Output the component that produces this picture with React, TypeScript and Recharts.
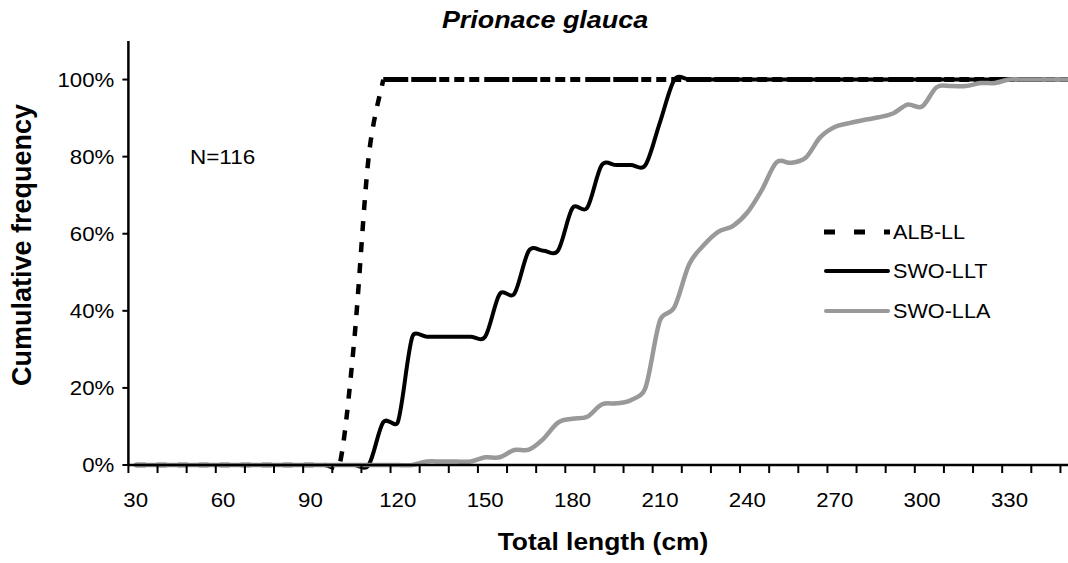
import React from 'react';
import { LineChart, Line, XAxis, YAxis, Legend } from 'recharts';

// ---- data ----
const lengths = [
  30, 35, 40, 45, 50, 55, 60, 65, 70, 75, 80, 85, 90, 95, 100, 105, 110, 115, 120, 125,
  130, 135, 140, 145, 150, 155, 160, 165, 170, 175, 180, 185, 190, 195, 200, 205, 210, 215, 220, 225,
  230, 235, 240, 245, 250, 255, 260, 265, 270, 275, 280, 285, 290, 295, 300, 305, 310, 315, 320, 325,
  330, 335, 340, 345, 350,
];

const albLL = [
  0, 0, 0, 0, 0, 0, 0, 0, 0, 0, 0, 0, 0, 0, 0, 0.32, 0.8, 1, 1, 1,
  1, 1, 1, 1, 1, 1, 1, 1, 1, 1, 1, 1, 1, 1, 1, 1, 1, 1, 1, 1,
  1, 1, 1, 1, 1, 1, 1, 1, 1, 1, 1, 1, 1, 1, 1, 1, 1, 1, 1, 1,
  1, 1, 1, 1, 1,
];

const swoLLT = [
  0, 0, 0, 0, 0, 0, 0, 0, 0, 0, 0, 0, 0, 0, 0, 0, 0, 0.111, 0.111, 0.333,
  0.333, 0.333, 0.333, 0.333, 0.333, 0.444, 0.444, 0.556, 0.556, 0.556, 0.667, 0.667, 0.778, 0.778, 0.778, 0.778, 0.889, 1, 1, 1,
  1, 1, 1, 1, 1, 1, 1, 1, 1, 1, 1, 1, 1, 1, 1, 1, 1, 1, 1, 1,
  1, 1, 1, 1, 1,
];

const swoLLA = [
  0, 0, 0, 0, 0, 0, 0, 0, 0, 0, 0, 0, 0, 0, 0, 0, 0, 0, 0, 0,
  0.009, 0.009, 0.009, 0.009, 0.02, 0.02, 0.039, 0.04, 0.068, 0.11, 0.12, 0.125, 0.157, 0.16, 0.168, 0.2, 0.375, 0.41, 0.52, 0.57,
  0.605, 0.62, 0.655, 0.714, 0.785, 0.784, 0.797, 0.85, 0.877, 0.887, 0.895, 0.902, 0.912, 0.935, 0.93, 0.98, 0.983, 0.983, 0.991, 0.991,
  1, 1, 1, 1, 1,
];

const seriesNames = ['ALB-LL', 'SWO-LLT', 'SWO-LLA'];
const xTickLabels = [30, 60, 90, 120, 150, 180, 210, 240, 270, 300, 330];
const yTickValues = [0, 0.2, 0.4, 0.6, 0.8, 1.0];
const chartTitle = 'Prionace glauca';
const xTitle = 'Total length (cm)';
const yTitle = 'Cumulative frequency';
const sampleNote = 'N=116';

// ---- styling / layout ----
const FONT = '"Liberation Sans", Arial, Helvetica, sans-serif';
const ALB_SPLIT = 115; // where the dashed rising part meets the flat part
const X_DOMAIN: [number, number] = [27.5, 352.5];
const tickMarks = Array.from({ length: 33 }, (_, k) => 27.5 + 10 * k);
const allXTicks = [...tickMarks, ...xTickLabels].sort((a, b) => a - b);
const TEXT_STRETCH = 1.06;

const data = lengths.map((x, i) => ({
  x,
  albRise: x <= ALB_SPLIT ? albLL[i] : null,
  albFlat: x >= ALB_SPLIT ? albLL[i] : null,
  swoLLT: swoLLT[i],
  swoLLA: swoLLA[i],
}));

// Excel-like smoothed line: Catmull-Rom bezier, control arms capped at half the chord
function capArm(dx: number, dy: number, maxLen: number) {
  const L = Math.hypot(dx, dy);
  if (L > maxLen && L > 0) {
    const s = maxLen / L;
    return [dx * s, dy * s];
  }
  return [dx, dy];
}

function excelSmooth(context: any) {
  let pts: number[][] = [];
  return {
    areaStart() {},
    areaEnd() {},
    lineStart() {
      pts = [];
    },
    point(x: number, y: number) {
      pts.push([+x, +y]);
    },
    lineEnd() {
      const n = pts.length;
      if (!n) return;
      context.moveTo(pts[0][0], pts[0][1]);
      for (let i = 0; i < n - 1; i++) {
        const p0 = pts[i - 1] || pts[i];
        const p1 = pts[i];
        const p2 = pts[i + 1];
        const p3 = pts[i + 2] || p2;
        const half = Math.hypot(p2[0] - p1[0], p2[1] - p1[1]) / 2;
        const a1 = capArm((p2[0] - p0[0]) / 6, (p2[1] - p0[1]) / 6, half);
        const a2 = capArm((p3[0] - p1[0]) / 6, (p3[1] - p1[1]) / 6, half);
        context.bezierCurveTo(p1[0] + a1[0], p1[1] + a1[1], p2[0] - a2[0], p2[1] - a2[1], p2[0], p2[1]);
      }
    },
  };
}

const XTick = (props: any) => {
  const { x, y, payload } = props;
  const v = payload.value;
  if (xTickLabels.includes(v)) {
    return (
      <g transform={`translate(${x},${y + 41.5}) scale(${TEXT_STRETCH},1)`}>
        <text x={0} y={0} textAnchor="middle" fontSize={21} fontFamily={FONT} fill="#000">
          {v}
        </text>
      </g>
    );
  }
  return <line x1={x} x2={x} y1={y} y2={y + 8} stroke="#000" strokeWidth={2} />;
};

const YTick = (props: any) => {
  const { x, y, payload } = props;
  return (
    <g transform={`translate(${x},${y}) scale(${TEXT_STRETCH},1)`}>
      <text x={0} y={0} dy="0.355em" textAnchor="end" fontSize={21} fontFamily={FONT} fill="#000">
        {`${Math.round(payload.value * 100)}%`}
      </text>
    </g>
  );
};

const legendItems = [
  { name: seriesNames[0], color: '#000', width: 5, dash: '11 19', cap: 'butt' },
  { name: seriesNames[1], color: '#000', width: 4, dash: undefined, cap: 'round' },
  { name: seriesNames[2], color: '#999999', width: 4, dash: undefined, cap: 'round' },
];

const renderLegend = () => (
  <div style={{ fontFamily: FONT, fontSize: 21, color: '#000' }}>
    {legendItems.map((it) => (
      <div key={it.name} style={{ display: 'flex', alignItems: 'center', height: 39.5 }}>
        <svg width={66} height={10} style={{ display: 'block' }}>
          <line
            x1={it.cap === 'round' ? 2 : 0}
            x2={it.cap === 'round' ? 64 : 66}
            y1={5}
            y2={5}
            stroke={it.color}
            strokeWidth={it.width}
            strokeDasharray={it.dash}
            strokeLinecap={it.cap as any}
          />
        </svg>
        <span
          style={{
            marginLeft: 3,
            lineHeight: '24px',
            display: 'inline-block',
            transform: 'scaleX(1.03)',
            transformOrigin: 'left center',
          }}
        >
          {it.name}
        </span>
      </div>
    ))}
  </div>
);

export default function App() {
  return (
    <div
      style={{
        position: 'absolute',
        left: 0,
        top: 0,
        width: 1068,
        height: 563,
        overflow: 'hidden',
        background: '#fff',
        fontFamily: FONT,
      }}
    >
      <LineChart
        width={1090}
        height={563}
        data={data}
        margin={{ top: 41, right: 15, bottom: 58, left: 58.4 }}
      >
        <XAxis
          type="number"
          dataKey="x"
          domain={X_DOMAIN}
          allowDataOverflow
          ticks={allXTicks}
          interval={0}
          tickLine={false}
          tickSize={0}
          tickMargin={0}
          tick={(p: any) => <XTick {...p} />}
          axisLine={{ stroke: '#000', strokeWidth: 2.5 }}
          height={40}
        />
        <YAxis
          type="number"
          domain={[0, 1.1]}
          ticks={yTickValues}
          interval={0}
          width={70}
          tickSize={6}
          tickMargin={8}
          tick={(p: any) => <YTick {...p} />}
          tickLine={{ stroke: '#000', strokeWidth: 2 }}
          axisLine={{ stroke: '#000', strokeWidth: 2.5 }}
        />
        <Legend
          layout="vertical"
          align="center"
          verticalAlign="middle"
          content={renderLegend}
          wrapperStyle={{ left: 824, top: 212, width: 220, height: 120 }}
        />
        <Line
          dataKey="albRise"
          name={seriesNames[0]}
          type={excelSmooth as any}
          stroke="#000"
          strokeWidth={4.5}
          strokeDasharray="10 11"
          dot={false}
          activeDot={false}
          isAnimationActive={false}
        />
        <Line
          dataKey="albFlat"
          name={seriesNames[0] + ' '}
          type={excelSmooth as any}
          stroke="#000"
          strokeWidth={5}
          strokeDasharray="25 3 25 3 10 5 10 5 10 5"
          dot={false}
          activeDot={false}
          isAnimationActive={false}
        />
        <Line
          dataKey="swoLLT"
          name={seriesNames[1]}
          type={excelSmooth as any}
          stroke="#000"
          strokeWidth={4}
          strokeLinejoin="round"
          strokeLinecap="round"
          dot={false}
          activeDot={false}
          isAnimationActive={false}
        />
        <Line
          dataKey="swoLLA"
          name={seriesNames[2]}
          type={excelSmooth as any}
          stroke="#999999"
          strokeWidth={4.5}
          strokeLinejoin="round"
          strokeLinecap="round"
          dot={false}
          activeDot={false}
          isAnimationActive={false}
        />
      </LineChart>

      <div
        style={{
          position: 'absolute',
          left: 545,
          top: 20,
          transform: 'translate(-50%, -50%) scaleX(1.12)',
          fontSize: 24,
          fontWeight: 'bold',
          fontStyle: 'italic',
          whiteSpace: 'nowrap',
          color: '#000',
        }}
      >
        {chartTitle}
      </div>
      <div
        style={{
          position: 'absolute',
          left: 603,
          top: 530.4,
          transform: 'translateX(-50%) scaleX(1.1)',
          fontSize: 24,
          lineHeight: '24px',
          fontWeight: 'bold',
          whiteSpace: 'nowrap',
          color: '#000',
        }}
      >
        {xTitle}
      </div>
      <div
        style={{
          position: 'absolute',
          left: 22,
          top: 245,
          transform: 'translate(-50%, -50%) rotate(-90deg)',
          fontSize: 27,
          fontWeight: 'bold',
          whiteSpace: 'nowrap',
          color: '#000',
        }}
      >
        {yTitle}
      </div>
      <div
        style={{
          position: 'absolute',
          left: 190,
          top: 145,
          fontSize: 21,
          lineHeight: '24px',
          whiteSpace: 'nowrap',
          color: '#000',
          transform: 'scaleX(1.07)',
          transformOrigin: 'left center',
        }}
      >
        {sampleNote}
      </div>
    </div>
  );
}
